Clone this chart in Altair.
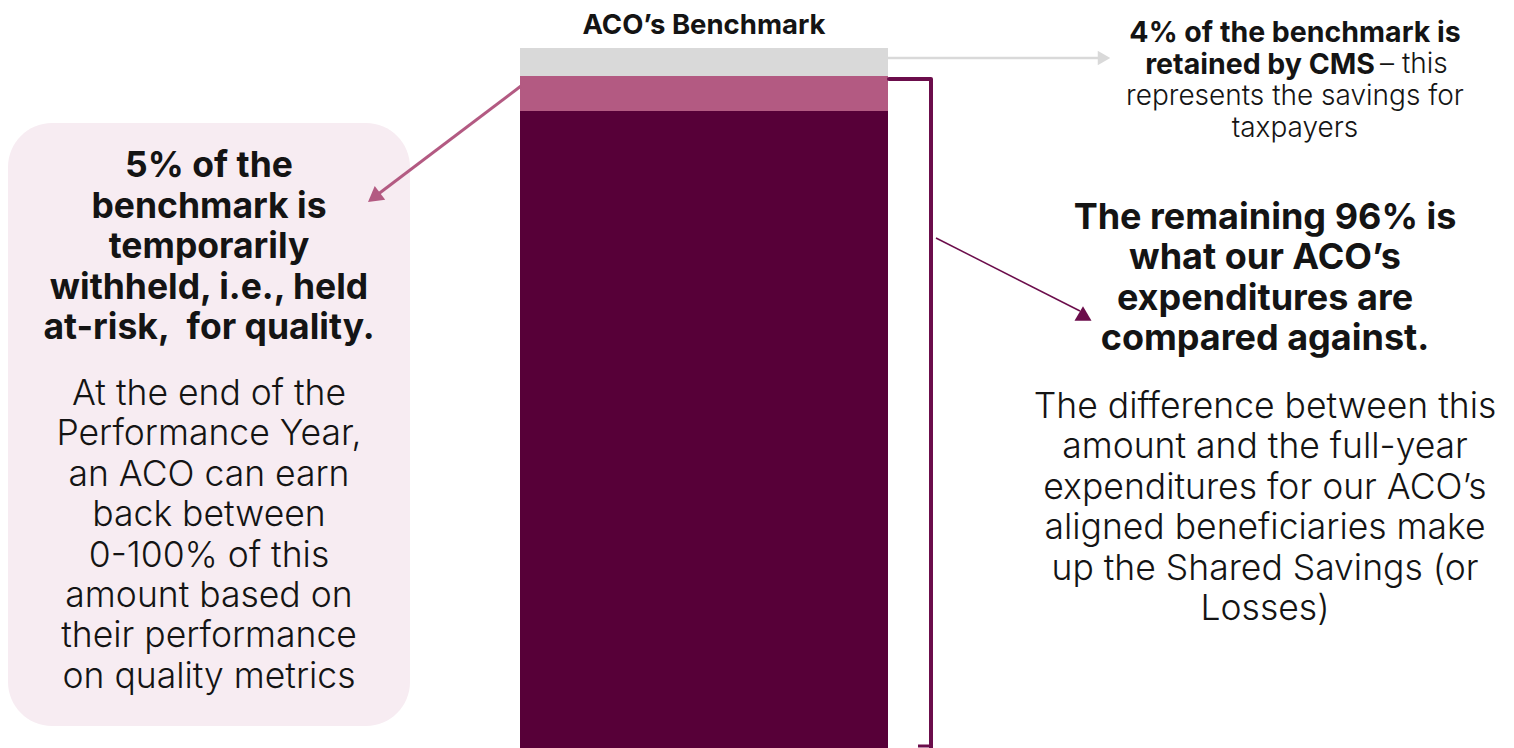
import altair as alt
import pandas as pd

# ---------------- data ----------------
segments = ["Compared against expenditures", "Withheld for quality", "Retained by CMS"]
shares = [91, 5, 4]
seg_colors = ["#570038", "#b35a82", "#d9d9d9"]

title_text = "ACO’s Benchmark"
cms_bold_1 = "4% of the benchmark is"
cms_bold_2 = "retained by CMS"
cms_reg_2 = "– this"
cms_reg_lines = ["represents the savings for", "taxpayers"]
withheld_bold = ["5% of the", "benchmark is", "temporarily",
                 "withheld, i.e., held", "at-risk,\u00a0 for quality."]
withheld_reg = ["At the end of the", "Performance Year,", "an ACO can earn",
                "back between", "0-100% of this", "amount based on",
                "their performance", "on quality metrics"]
remaining_bold = ["The remaining 96% is", "what our ACO’s",
                  "expenditures are", "compared against."]
remaining_reg = ["The difference between this", "amount and the full-year",
                 "expenditures for our ACO’s", "aligned beneficiaries make",
                 "up the Shared Savings (or", "Losses)"]

# ---------------- layout ----------------
W, H = 1498, 740
OX, OY = 8, 8
PX_PER_PCT = 7
Y_MAX = H / PX_PER_PCT
FONT = "Inter"
TXT = "#141414"
BRACKET = "#6b0d4b"
BOX = "#f7ecf2"

def px(x):
    return x - OX

def py(y):
    return y - OY

yscale = alt.Scale(domain=[0, Y_MAX], nice=False, zero=True)
one = pd.DataFrame({"_": [0]})

ends = pd.Series(shares).cumsum()
bar_df = pd.DataFrame({"segment": segments, "start": ends - pd.Series(shares), "end": ends})

box = alt.Chart(one).mark_rect(cornerRadius=44, color=BOX).encode(
    x=alt.value(px(8)), x2=alt.value(px(410)),
    y=alt.value(py(123)), y2=alt.value(py(726)))

bar = alt.Chart(bar_df).mark_rect().encode(
    x=alt.value(px(520)), x2=alt.value(px(888)),
    y=alt.Y("end:Q", scale=yscale, axis=None),
    y2="start:Q",
    color=alt.Color("segment:N", scale=alt.Scale(domain=segments, range=seg_colors), legend=None),
)

bracket_top = shares[0] + shares[1]
br_top = alt.Chart(one).mark_rule(color=BRACKET, strokeWidth=4, yOffset=3, strokeCap="round").encode(
    x=alt.value(px(889)), x2=alt.value(px(931)),
    y=alt.Y(datum=bracket_top, scale=yscale))
br_vert = alt.Chart(one).mark_rule(color=BRACKET, strokeWidth=4, yOffset=3).encode(
    x=alt.value(px(931)),
    y=alt.Y(datum=bracket_top, scale=yscale), y2=alt.Y2(datum=0))
br_foot = alt.Chart(one).mark_rule(color=BRACKET, strokeWidth=3).encode(
    x=alt.value(px(918)), x2=alt.value(px(933)), y=alt.value(py(746)))

def arrow_line(x1, y1, x2, y2, color, width):
    return alt.Chart(one).mark_rule(color=color, strokeWidth=width).encode(
        x=alt.value(px(x1)), x2=alt.value(px(x2)),
        y=alt.value(py(y1)), y2=alt.value(py(y2)))

def arrow_head(x, y, shape, size, angle, color):
    return alt.Chart(one).mark_point(shape=shape, size=size, angle=angle, filled=True,
                                     color=color, opacity=1, strokeWidth=0).encode(
        x=alt.value(px(x)), y=alt.value(py(y)))

gray_line = arrow_line(888, 58, 1100, 58, "#d9d9d9", 2.5)
gray_head = arrow_head(1104, 58, "triangle-right", 210, 0, "#d9d9d9")
pink_line = arrow_line(521, 86, 377, 195, "#b35a82", 3)
pink_head = arrow_head(374, 197.5, "triangle-up", 300, 232.8, "#b35a82")
br_line = arrow_line(936, 238, 1080, 311, BRACKET, 1.5)
br_head = arrow_head(1083, 313.5, "triangle-up", 290, 0, BRACKET)

def text_block(lines, x, y, size, weight, lh, align="center"):
    t = lines if isinstance(lines, str) or len(lines) > 1 else lines[0]
    return alt.Chart(one).mark_text(
        text=t, font=FONT, fontSize=size, fontWeight=weight, lineHeight=lh,
        align=align, baseline="middle", color=TXT).encode(
        x=alt.value(px(x)), y=alt.value(py(y)))

# y = centre of the first line of each block
texts = [
    text_block(title_text, 704, 25.5, 27.5, 700, 27.5),
    text_block(cms_bold_1, 1295, 33, 28.5, 700, 31.7),
    text_block(cms_bold_2, 1375, 65, 28.5, 700, 31.7, align="right"),
    text_block(cms_reg_2, 1380, 65, 28, 300, 31.7, align="left"),
    text_block(cms_reg_lines, 1295, 97, 28, 300, 31.7),
    text_block(withheld_bold, 209, 166, 35.5, 700, 40.5),
    text_block(withheld_reg, 209, 394, 35.5, 300, 40.4),
    text_block(remaining_bold, 1265, 218, 36, 700, 40.3),
    text_block(remaining_reg, 1265, 407, 35.5, 300, 40.4),
]

chart = alt.layer(
    box, bar, br_top, br_vert, br_foot,
    gray_line, gray_head, pink_line, pink_head, br_line, br_head,
    *texts
).properties(
    width=W, height=H, padding=0,
    autosize=alt.AutoSizeParams(type="none"),
).configure_view(stroke=None)

chart.save("out.html", embed_options={"renderer": "svg", "actions": False})
